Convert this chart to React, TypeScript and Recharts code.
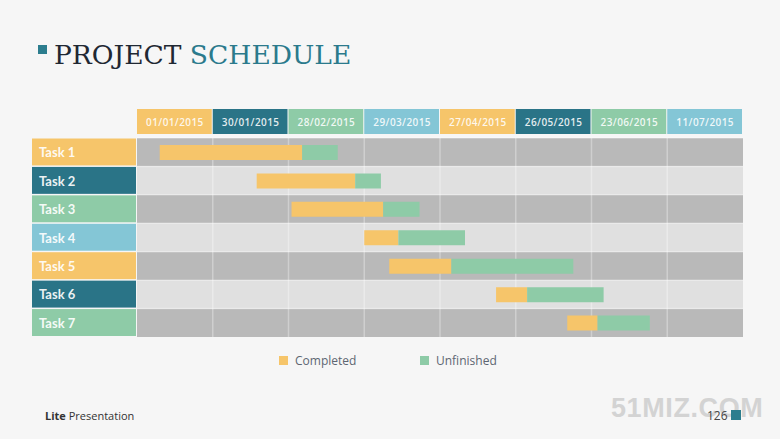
import { BarChart, Bar, XAxis, YAxis, CartesianGrid, Legend } from 'recharts'

const tasks = ['Task 1', 'Task 2', 'Task 3', 'Task 4', 'Task 5', 'Task 6', 'Task 7']
const dates = ['01/01/2015', '30/01/2015', '28/02/2015', '29/03/2015', '27/04/2015', '26/05/2015', '23/06/2015', '11/07/2015']
// positions in column units (one column per date)
const starts = [0.3, 1.58, 2.04, 3.0, 3.33, 4.74, 5.68]
const completed = [1.88, 1.3, 1.21, 0.45, 0.82, 0.41, 0.4]
const unfinished = [0.47, 0.34, 0.48, 0.88, 1.61, 1.01, 0.69]

const headerTicks = dates.map((_, i) => i + 0.5)

const cellColors = ['#f6c56a', '#2a7487', '#8ecba7', '#84c6d6']
const ORANGE = '#f6c56a'
const GREEN = '#8ecba7'

const W = 780
const H = 439
const M = { top: 109, right: 37, bottom: 102, left: 32 }
const LABEL_W = 105
const COL_W = (W - M.left - LABEL_W - M.right) / dates.length
const ROW_H = (H - M.top - 29 - M.bottom) / tasks.length

const data = tasks.map((t, i) => ({
  task: t,
  offset: starts[i],
  completed: completed[i],
  unfinished: unfinished[i],
}))

// row stripes and column lines follow the plot area
const rowLines = ({ offset }: any) => tasks.map((_, i) => offset.top + (i * offset.height) / tasks.length)
const colLines = ({ offset }: any) => dates.slice(1).map((_, i) => offset.left + ((i + 1) * offset.width) / dates.length)

function DateTick(props: any) {
  const { x, y, payload, index } = props
  return (
    <g>
      <rect x={x - COL_W / 2} y={y - 29} width={COL_W - 1} height={25} fill={cellColors[index % 4]} />
      <text
        x={x}
        y={y - 16.5}
        textAnchor="middle"
        dominantBaseline="central"
        fill="#fff"
        fillOpacity={0.88}
        fontSize={10}
        fontWeight={600}
        letterSpacing={0.4}
        fontFamily="'Open Sans', sans-serif"
      >
        {dates[Math.floor(payload.value)]}
      </text>
    </g>
  )
}

function TaskTick(props: any) {
  const { y, payload, index } = props
  return (
    <g>
      <rect x={M.left} y={y - ROW_H / 2 + 0.5} width={LABEL_W - 1} height={ROW_H - 1.5} fill={cellColors[index % 4]} />
      <text
        x={M.left + 7}
        y={y}
        dominantBaseline="central"
        fill="#fff"
        fillOpacity={0.92}
        fontSize={13}
        fontWeight={700}
        fontFamily="Lato, sans-serif"
      >
        {payload.value}
      </text>
    </g>
  )
}

function LegendContent(props: any) {
  const items = (props.payload || []).filter((p: any) => p.type !== 'none')
  return (
    <div style={{ position: 'relative', height: 20 }}>
      {items.map((p: any, i: number) => (
        <div
          key={p.value}
          style={{
            position: 'absolute',
            left: 279 + i * 141,
            top: 0,
            display: 'flex',
            alignItems: 'center',
            fontFamily: "'Open Sans', sans-serif",
            fontSize: 12,
            color: '#5d6672',
          }}
        >
          <span style={{ width: 9, height: 9, background: p.color, display: 'inline-block', marginRight: 7 }} />
          {p.value}
        </div>
      ))}
    </div>
  )
}

export default function App() {
  return (
    <div style={{ position: 'absolute', left: 0, top: 0, width: W, height: H, background: '#f6f6f6', overflow: 'hidden' }}>
      <div style={{ position: 'absolute', left: 38, top: 45, width: 9, height: 9, background: '#2c7d8e' }} />
      <div
        style={{
          position: 'absolute',
          left: 54,
          top: 39,
          fontFamily: "'DejaVu Serif', serif",
          fontSize: 26.5,
          color: '#1f2833',
          whiteSpace: 'nowrap',
        }}
      >
        PROJECT <span style={{ color: '#2b7a8c' }}>SCHEDULE</span>
      </div>

      <BarChart width={W} height={H} data={data} layout="vertical" margin={M} barSize={15}>
        <CartesianGrid
          stroke="#ffffff"
          strokeOpacity={0.32}
          strokeWidth={1.5}
          horizontalFill={['#b9b9b9', '#e0e0e0']}
          fillOpacity={1}
          horizontalCoordinatesGenerator={rowLines}
          verticalCoordinatesGenerator={colLines}
        />
        <XAxis
          type="number"
          orientation="top"
          domain={[0, dates.length]}
          ticks={headerTicks}
          interval={0}
          height={29}
          tickSize={0}
          tickMargin={0}
          axisLine={false}
          tickLine={false}
          tick={<DateTick />}
          allowDataOverflow
        />
        <YAxis
          type="category"
          dataKey="task"
          width={LABEL_W}
          tickSize={0}
          tickMargin={0}
          axisLine={false}
          tickLine={false}
          interval={0}
          tick={<TaskTick />}
        />
        <Legend
          verticalAlign="middle"
          align="center"
          layout="horizontal"
          wrapperStyle={{ top: 352, left: 0, width: W }}
          content={<LegendContent />}
        />
        <Bar dataKey="offset" stackId="g" fill="transparent" legendType="none" isAnimationActive={false} />
        <Bar dataKey="completed" name="Completed" stackId="g" fill={ORANGE} isAnimationActive={false} />
        <Bar dataKey="unfinished" name="Unfinished" stackId="g" fill={GREEN} isAnimationActive={false} />
      </BarChart>

      <div style={{ position: 'absolute', left: 45, top: 408, fontFamily: "'Open Sans', sans-serif", fontSize: 11, color: '#333' }}>
        <b>Lite</b> Presentation
      </div>
      <div
        style={{
          position: 'absolute',
          left: 611,
          top: 393,
          fontFamily: "'Liberation Sans', sans-serif",
          fontWeight: 700,
          fontSize: 27,
          letterSpacing: 0.6,
          color: '#d3d3d3',
        }}
      >
        51MIZ.COM
      </div>
      <div style={{ position: 'absolute', left: 707, top: 407, fontFamily: "'Open Sans', sans-serif", fontSize: 12, color: '#444' }}>
        126
      </div>
      <div style={{ position: 'absolute', left: 731, top: 410, width: 10, height: 10, background: '#2c7d8e' }} />
    </div>
  )
}
